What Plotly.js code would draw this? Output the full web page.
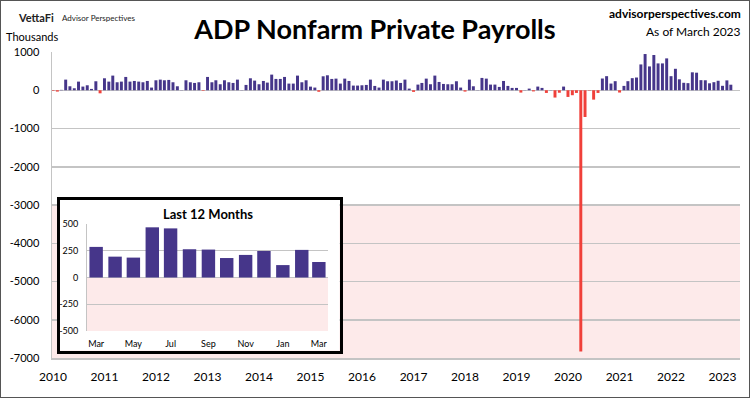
<!DOCTYPE html>
<html>
<head>
<meta charset="utf-8">
<script src="https://cdn.plot.ly/plotly-3.0.1.min.js"></script>
<style>
  html, body { margin: 0; padding: 0; background: #fff; }
  #chart { width: 750px; height: 398px; }
  #frame { position: absolute; left: 0; top: 0; width: 750px; height: 398px; box-sizing: border-box; border: 1px solid #555; pointer-events: none; }
</style>
</head>
<body>
<div id="chart"></div>
<div id="frame"></div>
<script>
// ---- DATA (thousands, monthly change) ----
const startYear = 2010;
const v2010 = [-15, -35, 10, 278, 104, 52, 226, 96, 130, 35, 235, -80];
const v2011 = [313, 226, 383, 209, 226, 348, 226, 243, 226, 209, 243, 70];
const v2012 = [261, 278, 261, 270, 209, 104, 5, 261, 209, 191, 209, -15];
const v2013 = [348, 209, 261, 157, 261, 209, 191, 278, 5, 139, 313, 252];
const v2014 = [157, 243, 200, 409, 296, 296, 348, 174, 174, 383, 209, 261];
const v2015 = [95, 70, -40, 365, 391, 296, 304, 174, 304, 243, 122, 122];
const v2016 = [130, 139, 278, 113, 70, 278, 235, 235, 255, 191, 278, 43];
const v2017 = [-43, 148, 191, 304, 157, 383, 217, 165, 157, 157, 235, 70];
const v2018 = [-35, 278, 104, 5, 322, 304, 148, 148, 87, 243, 113, 61];
const v2019 = [61, -61, 5, 43, -30, 96, 61, -70, 5, -191, -65, 96];
const v2020 = [-175, -130, -70, -6830, -700, -10, -245, -70, 307, 368, 175, 237];
const v2021 = [-60, 114, 237, 316, 333, 675, 947, 623, 921, 702, 702, 833];
const v2022 = [368, 561, 286, 195, 186, 469, 459, 264, 261, 182, 211, 248];
const v2023 = [116, 258, 145];

const yTicks = [1000, 0, -1000, -2000, -3000, -4000, -5000, -6000, -7000];
const insetYTicks = [500, 250, 0, -250, -500];

// ---- build series ----
const values = [].concat(v2010, v2011, v2012, v2013, v2014, v2015, v2016, v2017, v2018, v2019, v2020, v2021, v2022, v2023);
const months = values.map((_, i) => {
  const y = startYear + Math.floor(i / 12);
  const m = (i % 12) + 1;
  return y + '-' + String(m).padStart(2, '0') + '-01';
});
const last12x = months.slice(-13);
const last12y = values.slice(-13);

const BLUE = '#46368a';
const RED = '#f0403a';
const GRID = '#c4c4c4';
const FONT = 'Lato, "Open Sans", sans-serif';
const DAY = 86400000;

// pixel helpers for the main plot area (l=52, r=740, t=52, b=358)
const L = 52, R = 740, T = 52, B = 358;
const px = x => (x - L) / (R - L);
const py = y => (B - y) / (B - T);

const traces = [
  {
    type: 'bar', x: months, y: values,
    marker: { color: values.map(v => v < 0 ? RED : BLUE) },
    width: 21 * DAY, xaxis: 'x', yaxis: 'y', hoverinfo: 'skip'
  },
  { // invisible trace to create the inset box subplot
    type: 'scatter', x: [0.5], y: [0.5], mode: 'markers',
    marker: { opacity: 0 }, xaxis: 'x2', yaxis: 'y2', hoverinfo: 'skip', showlegend: false
  },
  {
    type: 'bar', x: last12x, y: last12y,
    marker: { color: last12y.map(v => v < 0 ? RED : BLUE) },
    width: 22 * DAY, xaxis: 'x3', yaxis: 'y3', hoverinfo: 'skip'
  }
];

const layout = {
  width: 750, height: 398,
  margin: { l: L, r: 750 - R, t: T, b: 398 - B, pad: 0 },
  paper_bgcolor: '#fff', plot_bgcolor: '#fff',
  showlegend: false, hovermode: false,
  font: { family: FONT, color: '#000' },
  title: {
    text: '<b>ADP Nonfarm Private Payrolls</b>',
    x: 0.5, xref: 'container', y: 1 - 30 / 398, yref: 'container', yanchor: 'middle',
    font: { family: FONT, size: 27, color: '#000' }
  },
  xaxis: {
    type: 'date', range: ['2009-12-25', '2023-05-05'],
    tick0: '2010-01-01', dtick: 'M12', tickformat: '%Y',
    showgrid: false, zeroline: false, showline: true, linecolor: GRID, linewidth: 1.5,
    ticks: '', ticklen: 0, ticklabelstandoff: 7,
    tickfont: { size: 12, family: FONT, color: '#000' }
  },
  yaxis: {
    range: [-7000, 1000], tickvals: yTicks, ticktext: yTicks.map(String),
    showgrid: true, gridcolor: GRID, gridwidth: 1.5, zeroline: false,
    showline: true, linecolor: GRID, linewidth: 1.5, ticks: '', ticklabelstandoff: 9,
    tickfont: { size: 11, family: FONT, color: '#000' }
  },
  xaxis2: {
    domain: [px(59.5), px(339.5)], anchor: 'y2', range: [0, 1],
    showgrid: false, zeroline: false, showticklabels: false, ticks: '',
    showline: true, mirror: true, linecolor: '#000', linewidth: 3
  },
  yaxis2: {
    domain: [py(350.5), py(199.5)], anchor: 'x2', range: [0, 1],
    showgrid: false, zeroline: false, showticklabels: false, ticks: '',
    showline: true, mirror: true, linecolor: '#000', linewidth: 3
  },
  xaxis3: {
    type: 'date', domain: [px(87), px(328)], anchor: 'y3',
    range: ['2022-02-14', '2023-03-16'],
    tick0: '2022-03-01', dtick: 'M2', tickformat: '%b',
    showgrid: false, zeroline: false, showline: false, ticks: '', ticklabelstandoff: 6,
    tickfont: { size: 9, family: FONT, color: '#000' }
  },
  yaxis3: {
    domain: [py(331), py(224)], anchor: 'x3', range: [-500, 500],
    tickvals: insetYTicks, ticktext: insetYTicks.map(String),
    showgrid: true, gridcolor: GRID, gridwidth: 1.2, zeroline: false,
    showline: true, linecolor: GRID, linewidth: 1, ticks: '', ticklabelstandoff: 6,
    tickfont: { size: 9, family: FONT, color: '#000' }
  },
  shapes: [
    { type: 'rect', xref: 'paper', yref: 'y', x0: 0, x1: 1, y0: -7000, y1: -3000,
      fillcolor: '#fdeaea', line: { width: 0 }, layer: 'below' },
    { type: 'rect', xref: 'x3', yref: 'y3', x0: '2022-02-14', x1: '2023-03-16', y0: -500, y1: 0,
      fillcolor: '#fdeaea', line: { width: 0 }, layer: 'below' }
  ],
  annotations: [
    { text: '<b>Last 12 Months</b>', xref: 'paper', yref: 'paper',
      x: px(207.5), y: py(214), xanchor: 'center', yanchor: 'middle', showarrow: false,
      font: { size: 13, family: FONT, color: '#000' } },
    { text: '<b>VettaFi</b>', xref: 'paper', yref: 'paper',
      x: px(16), y: py(18), xanchor: 'left', yanchor: 'middle', showarrow: false,
      font: { size: 11, family: FONT, color: '#222' } },
    { text: 'Advisor Perspectives', xref: 'paper', yref: 'paper',
      x: px(60), y: py(18), xanchor: 'left', yanchor: 'middle', showarrow: false,
      font: { size: 8, family: FONT, color: '#222' } },
    { text: 'Thousands', xref: 'paper', yref: 'paper',
      x: px(4), y: py(37), xanchor: 'left', yanchor: 'middle', showarrow: false,
      font: { size: 11, family: FONT, color: '#000' } },
    { text: '<b>advisorperspectives.com</b>', xref: 'paper', yref: 'paper',
      x: px(743), y: py(13), xanchor: 'right', yanchor: 'middle', showarrow: false,
      font: { size: 12, family: FONT, color: '#000' } },
    { text: 'As of March 2023', xref: 'paper', yref: 'paper',
      x: px(743), y: py(31), xanchor: 'right', yanchor: 'middle', showarrow: false,
      font: { size: 12, family: FONT, color: '#000' } }
  ]
};

Plotly.newPlot('chart', traces, layout, { displayModeBar: false, staticPlot: true });
</script>
</body>
</html>
